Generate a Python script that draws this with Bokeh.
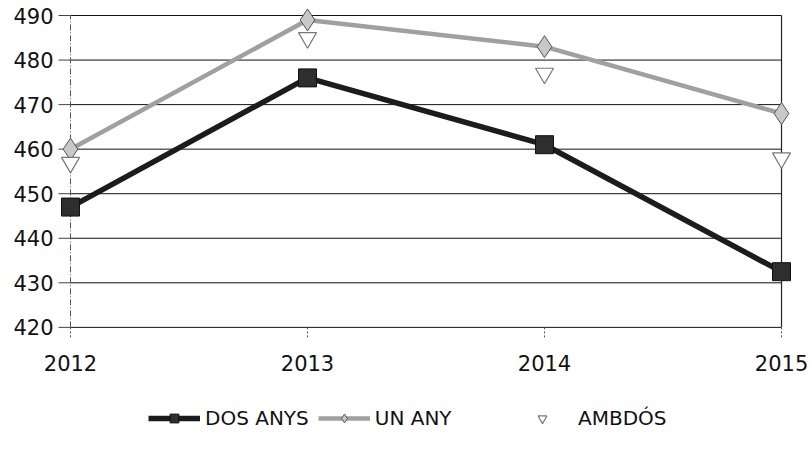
from math import pi
from bokeh.plotting import figure
from bokeh.models import Legend, LegendItem
from bokeh.core.properties import value
from bokeh.embed import file_html
from bokeh.resources import INLINE

years = [2012, 2013, 2014, 2015]
year_labels = ["2012", "2013", "2014", "2015"]
dos_anys = [447, 476, 461, 432.5]
un_any = [460, 489, 483, 468]
ambdos = [457, 485, 477, 458]
y_ticks = [420, 430, 440, 450, 460, 470, 480, 490]
y_labels = ["420", "430", "440", "450", "460", "470", "480", "490"]

FONT = "DejaVu Sans"

# the frame covers the whole canvas; texts and ticks are placed around the data area
p = figure(frame_width=810, frame_height=452,
           x_range=(2011.7046, 2015.1223), y_range=(391.91, 493.37),
           output_backend="svg", toolbar_location=None,
           min_border_left=0, min_border_right=0, min_border_top=0, min_border_bottom=0)
p.background_fill_color = "white"
p.border_fill_color = "white"
p.outline_line_color = None
p.grid.grid_line_color = None
p.xaxis.visible = False
p.yaxis.visible = False

n_y = len(y_ticks)
n_x = len(years)

# gridlines and frame lines between the first and last year
p.segment(x0=years[0], x1=years[-1], y0=y_ticks, y1=y_ticks,
          line_color="#111111", line_width=1)
p.segment(x0=years[0], x1=years[0], y0=y_ticks[0], y1=y_ticks[-1],
          line_color="#555555", line_width=1, line_dash="6 2 1 2")
p.segment(x0=years[-1], x1=years[-1], y0=y_ticks[0], y1=y_ticks[-1],
          line_color="#222222", line_width=1.2)

# y ticks and labels
p.ray(x=[years[0]] * n_y, y=y_ticks, length=12, angle=pi, length_units="screen",
      line_color="#444444", line_width=1)
p.text(x=[years[0]] * n_y, y=y_ticks, text=y_labels, x_offset=-17,
       text_align="right", text_baseline="middle",
       text_font=value(FONT), text_font_size="21px", text_color="#111111")

# x ticks and labels under the 420 line
base = [y_ticks[0]] * n_x
p.ray(x=years, y=base, length=10, angle=-pi / 2, length_units="screen",
      line_color="#555555", line_width=1, line_dash="2 2")
p.text(x=years, y=base, text=year_labels, y_offset=36,
       text_align="center", text_baseline="middle",
       text_font=value(FONT), text_font_size="21px", text_color="#111111")

un_line = p.line(years, un_any, line_color="#a0a0a0", line_width=4.5)
un_pts = p.scatter(years, un_any, marker="diamond", size=22,
                   fill_color="#c8c8c8", line_color="#555555", line_width=1)

dos_line = p.line(years, dos_anys, line_color="#1c1c1c", line_width=5.5)
dos_pts = p.scatter(years, dos_anys, marker="square", size=18,
                    fill_color="#2e2e2e", line_color="#111111", line_width=1)

amb_pts = p.scatter(years, ambdos, marker="inverted_triangle", size=18,
                    fill_color="white", line_color="#777777", line_width=1.2)


def style(lg):
    lg.label_text_font = FONT
    lg.label_text_font_size = "20px"
    lg.label_text_color = "#111111"
    lg.glyph_height = 22
    lg.padding = 0
    lg.margin = 0
    lg.border_line_color = None
    lg.background_fill_alpha = 0
    lg.orientation = "horizontal"


legend1 = Legend(items=[
    LegendItem(label="DOS ANYS", renderers=[dos_line, dos_pts]),
    LegendItem(label="UN ANY", renderers=[un_line, un_pts]),
], location=(148, 22))
style(legend1)
legend1.glyph_width = 52
legend1.label_standoff = 5
legend1.spacing = 9

legend2 = Legend(items=[
    LegendItem(label="AMBDÓS", renderers=[amb_pts]),
], location=(527, 22))
style(legend2)
legend2.glyph_width = 30
legend2.label_standoff = 21

p.add_layout(legend1)
p.add_layout(legend2)

open("out.html", "w").write(file_html(p, INLINE))
